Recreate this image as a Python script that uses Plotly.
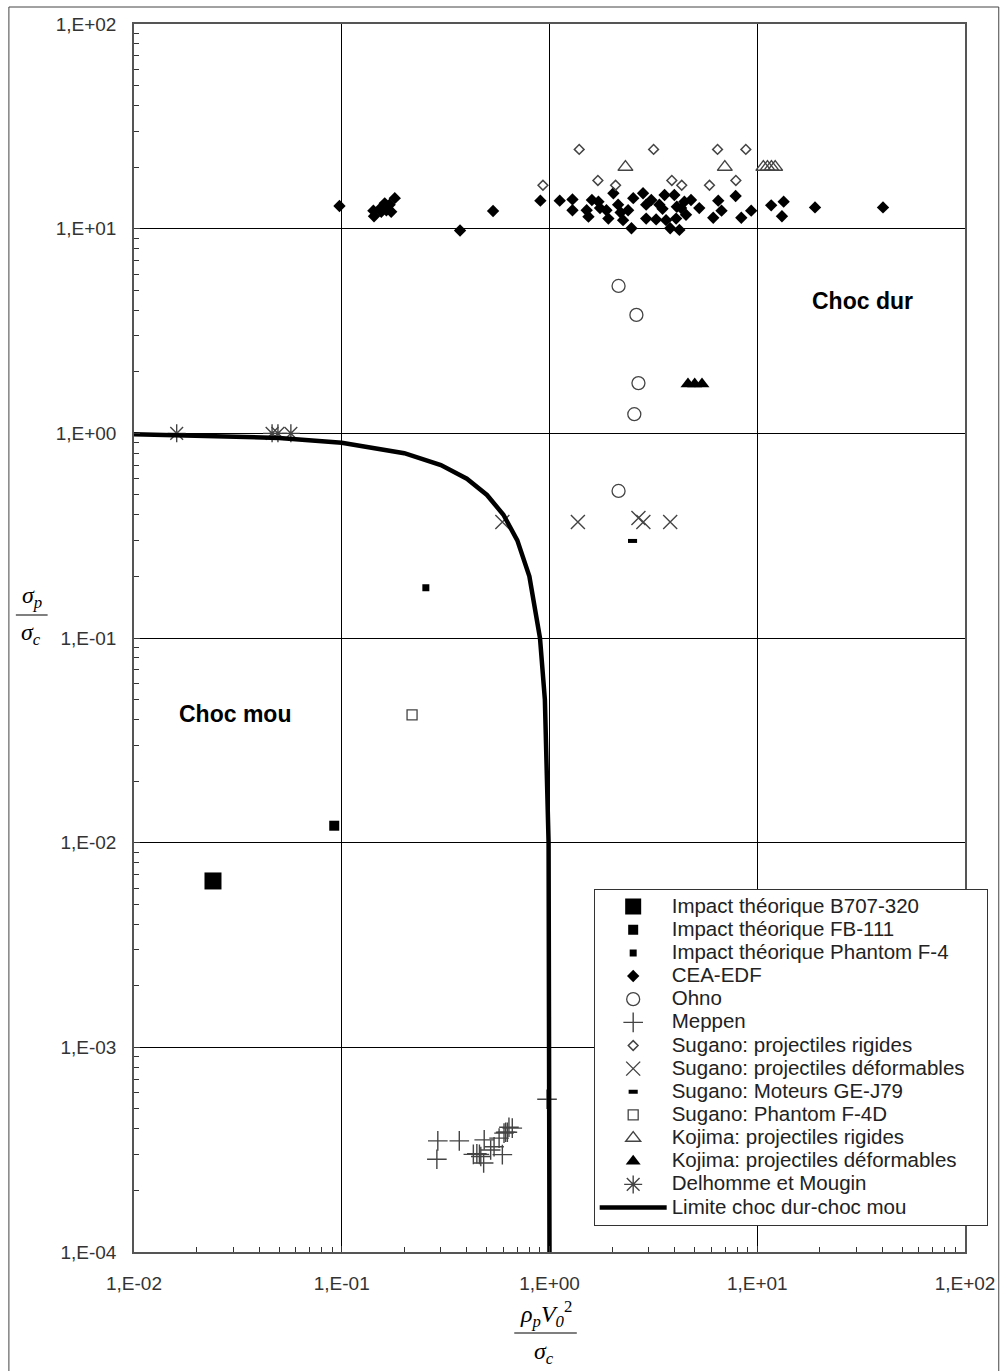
import plotly.graph_objects as go

# ---------------------------------------------------------------- axes ticks
TICK_X = [0.01, 0.1, 1, 10, 100]
TICK_X_TEXT = ["1,E-02", "1,E-01", "1,E+00", "1,E+01", "1,E+02"]
TICK_Y = [1e-4, 1e-3, 1e-2, 1e-1, 1, 10, 100]
TICK_Y_TEXT = ["1,E-04", "1,E-03", "1,E-02", "1,E-01", "1,E+00", "1,E+01", "1,E+02"]
MINOR_STEPS = [2, 3, 4, 5, 6, 7, 8, 9]

# ---------------------------------------------------------------- data series
b707_x = [0.024]
b707_y = [0.0065]

fb111_x = [0.092]
fb111_y = [0.0121]

f4_x = [0.254]
f4_y = [0.176]

cea_x = [0.0975, 0.142, 0.143, 0.155, 0.161, 0.170, 0.180, 0.173, 0.164, 0.155,
         0.371, 0.535, 0.904,
         1.12, 1.29, 1.29, 1.51, 1.54, 1.60, 1.72, 1.75, 1.88, 1.92, 2.03, 2.14,
         2.20, 2.26, 2.39, 2.48, 2.53, 2.82, 2.92, 2.92, 3.09, 3.26, 3.38, 3.50,
         3.58, 3.64, 3.81, 3.99, 4.07, 4.10, 4.22, 4.30, 4.46, 4.54, 4.80, 5.26,
         6.14, 6.49, 6.73, 7.87, 8.38, 9.35, 11.67, 13.4, 13.15, 18.97, 40.3]
cea_y = [12.9, 12.25, 11.5, 12.7, 13.3, 13.1, 14.1, 12.1, 12.3, 12.1,
         9.8, 12.2, 13.7,
         13.7, 13.9, 12.3, 12.3, 11.45, 13.8, 13.55, 12.6, 12.3, 11.2, 14.9, 13.1,
         12.0, 11.0, 12.3, 10.05, 14.1, 14.9, 13.1, 11.2, 13.8, 11.1, 13.1, 12.5,
         14.6, 11.0, 10.05, 14.6, 11.2, 12.8, 9.86, 12.6, 13.55, 11.7, 13.8, 12.6,
         11.3, 13.7, 12.25, 14.45, 11.3, 12.25, 13.0, 13.55, 11.5, 12.7, 12.7]

ohno_x = [2.15, 2.62, 2.68, 2.56, 2.15]
ohno_y = [5.25, 3.79, 1.76, 1.24, 0.523]

meppen_x = [0.290, 0.368, 0.287, 0.430, 0.447, 0.460, 0.467, 0.485, 0.482,
            0.521, 0.541, 0.572, 0.593, 0.604, 0.615, 0.627, 0.638, 0.662, 0.973]
meppen_y = [3.49e-4, 3.49e-4, 2.84e-4, 3.0e-4, 3.02e-4, 3.0e-4, 2.93e-4, 3.53e-4, 2.72e-4,
            3.15e-4, 3.27e-4, 3.6e-4, 2.99e-4, 3.81e-4, 3.85e-4, 3.85e-4, 4.07e-4, 4.03e-4, 5.58e-4]

sug_rig_x = [0.93, 1.39, 1.71, 2.08, 3.17, 3.88, 4.33, 5.89, 6.44, 7.89, 8.81]
sug_rig_y = [16.3, 24.4, 17.2, 16.3, 24.4, 17.2, 16.3, 16.3, 24.4, 17.2, 24.4]

sug_def_x = [0.593, 1.37, 2.68, 2.83, 3.81]
sug_def_y = [0.369, 0.369, 0.386, 0.369, 0.369]

sug_ge_x = [2.51]
sug_ge_y = [0.298]

sug_f4d_x = [0.218]
sug_f4d_y = [0.0421]

koj_rig_x = [2.32, 6.98, 10.7, 11.2, 11.7, 12.2]
koj_rig_y = [20.0, 20.0, 20.0, 20.0, 20.0, 20.0]

koj_def_x = [4.64, 5.0, 5.42]
koj_def_y = [1.74, 1.74, 1.74]

delh_x = [0.01605, 0.0462, 0.0493, 0.0569]
delh_y = [1.0, 1.0, 1.0, 1.0]

limit_x = [0.01, 0.05, 0.1, 0.2, 0.3, 0.4, 0.5, 0.6, 0.7, 0.8, 0.9, 0.95, 0.99, 0.999, 0.9999]
limit_y = [0.99, 0.95, 0.9, 0.8, 0.7, 0.6, 0.5, 0.4, 0.3, 0.2, 0.1, 0.05, 0.01, 0.001, 0.0001]

# ---------------------------------------------------------------- styling
FONT = "Liberation Sans, Arial, sans-serif"
SERIF = "Liberation Serif, Times New Roman, serif"
INK = "#222222"
GREY = "#444444"

# plot area in pixels (used to place the fraction titles and frame)
W, H = 1007, 1371
L, R, T, B = 134, 971, 24, 1252


def fx(p):
    return (p - L) / (R - L)


def fy(p):
    return (B - p) / (B - T)


def label(text, pad=0):
    # legend rows stay compact while the label itself is drawn larger;
    # trailing non-breaking spaces widen the legend frame on the right
    return '<span style="font-size:20.5px">' + text + "&nbsp;" * pad + "</span>"


fig = go.Figure()


def add_markers(x, y, name, symbol, size, color="black", line_color=None, line_width=0, pad=0):
    fig.add_trace(go.Scatter(
        x=x, y=y, mode="markers", name=label(name, pad),
        marker=dict(symbol=symbol, size=size, color=color,
                    line=dict(color=line_color or color, width=line_width)),
    ))


add_markers(b707_x, b707_y, "Impact théorique B707-320", "square", 17)
add_markers(fb111_x, fb111_y, "Impact théorique FB-111", "square", 10)
add_markers(f4_x, f4_y, "Impact théorique Phantom F-4", "square", 7)
add_markers(cea_x, cea_y, "CEA-EDF", "diamond", 9.5)
add_markers(ohno_x, ohno_y, "Ohno", "circle-open", 13, color=GREY, line_width=1.3)
add_markers(meppen_x, meppen_y, "Meppen", "cross-thin-open", 14, color=GREY, line_width=1.4)
add_markers(sug_rig_x, sug_rig_y, "Sugano: projectiles rigides", "diamond-open", 7.5,
            color=GREY, line_width=1.5)
add_markers(sug_def_x, sug_def_y, "Sugano: projectiles déformables", "x-thin-open", 14,
            color=GREY, line_width=1.4, pad=3)
add_markers(sug_ge_x, sug_ge_y, "Sugano: Moteurs GE-J79", "line-ew-open", 6.5,
            color="black", line_width=4)
add_markers(sug_f4d_x, sug_f4d_y, "Sugano: Phantom F-4D", "square-open", 10,
            color=GREY, line_width=1.3)
add_markers(koj_rig_x, koj_rig_y, "Kojima: projectiles rigides", "triangle-up-open", 13,
            color=GREY, line_width=1.4)
add_markers(koj_def_x, koj_def_y, "Kojima: projectiles déformables", "triangle-up", 13)
add_markers(delh_x, delh_y, "Delhomme et Mougin", "asterisk-open", 15,
            color=GREY, line_width=1.4)

fig.add_trace(go.Scatter(
    x=limit_x, y=limit_y, mode="lines", name=label("Limite choc dur-choc mou"),
    line=dict(color="black", width=4.5),
))


def minor_vals(lo, hi):
    return [m * 10.0 ** e for e in range(lo, hi) for m in MINOR_STEPS]


axis_common = dict(
    type="log",
    showgrid=True, gridcolor="black", gridwidth=1,
    showline=True, linecolor="#555555", linewidth=1.5, mirror=True,
    ticks="inside", ticklen=6, tickcolor="#333333", tickwidth=1,
    zeroline=False,
    tickfont=dict(family=FONT, size=19, color="#333333"),
    tickmode="array",
)
minor_common = dict(ticks="inside", ticklen=5, tickcolor="#333333", tickwidth=1,
                    showgrid=False, tickmode="array")

fig.update_xaxes(range=[-2, 2], tickvals=TICK_X, ticktext=TICK_X_TEXT,
                 ticklabelstandoff=13,
                 minor=dict(minor_common, tickvals=minor_vals(-2, 2)), **axis_common)
fig.update_yaxes(range=[-4, 2], tickvals=TICK_Y, ticktext=TICK_Y_TEXT,
                 ticklabelstandoff=12,
                 minor=dict(minor_common, tickvals=minor_vals(-4, 2)), **axis_common)

annotations = [
    dict(text="<b>Choc dur</b>", x=fx(868), y=fy(301)),
    dict(text="<b>Choc mou</b>", x=fx(236), y=fy(714)),
]
annotations = [dict(a, xref="paper", yref="paper", showarrow=False,
                    font=dict(family=FONT, size=23, color="black"),
                    xanchor="center", yanchor="middle") for a in annotations]

math_font = dict(family=SERIF, size=24, color="black")
# y-axis title: sigma_p / sigma_c ; x-axis title: rho_p V0^2 / sigma_c
math_titles = [
    dict(text="<i>σ<sub>p</sub></i>", x=fx(31), y=fy(597)),
    dict(text="<i>σ<sub>c</sub></i>", x=fx(30), y=fy(634)),
    dict(text="<i>ρ<sub>p</sub>V<sub>0</sub></i><sup>2</sup>", x=fx(549), y=fy(1314)),
    dict(text="<i>σ<sub>c</sub></i>", x=fx(547), y=fy(1353)),
]
for a in math_titles:
    a.update(xref="paper", yref="paper", showarrow=False, font=math_font,
             xanchor="center", yanchor="middle")
annotations += math_titles

shapes = [
    # fraction bars
    dict(type="line", xref="paper", yref="paper", x0=fx(15), x1=fx(47),
         y0=fy(615), y1=fy(615), line=dict(color="black", width=1.2)),
    dict(type="line", xref="paper", yref="paper", x0=fx(517), x1=fx(580),
         y0=fy(1333), y1=fy(1333), line=dict(color="black", width=1.2)),
    # outer chart frame
    dict(type="rect", xref="paper", yref="paper", x0=fx(8), x1=fx(1005),
         y0=fy(1380), y1=fy(7), line=dict(color="#444444", width=1),
         fillcolor="rgba(0,0,0,0)", layer="below"),
]

fig.update_layout(
    width=W, height=H,
    margin=dict(l=L, r=W - R, t=T, b=H - B, pad=0),
    paper_bgcolor="white", plot_bgcolor="white",
    font=dict(family=FONT, color=INK),
    annotations=annotations,
    shapes=shapes,
    legend=dict(
        x=fx(597), y=fy(889), xanchor="left", yanchor="top",
        bgcolor="white", bordercolor="#333333", borderwidth=1,
        font=dict(family=FONT, size=15.5, color=INK),
        itemwidth=67, itemsizing="trace", tracegroupgap=0,
    ),
    showlegend=True,
)

fig.write_html("out.html")
